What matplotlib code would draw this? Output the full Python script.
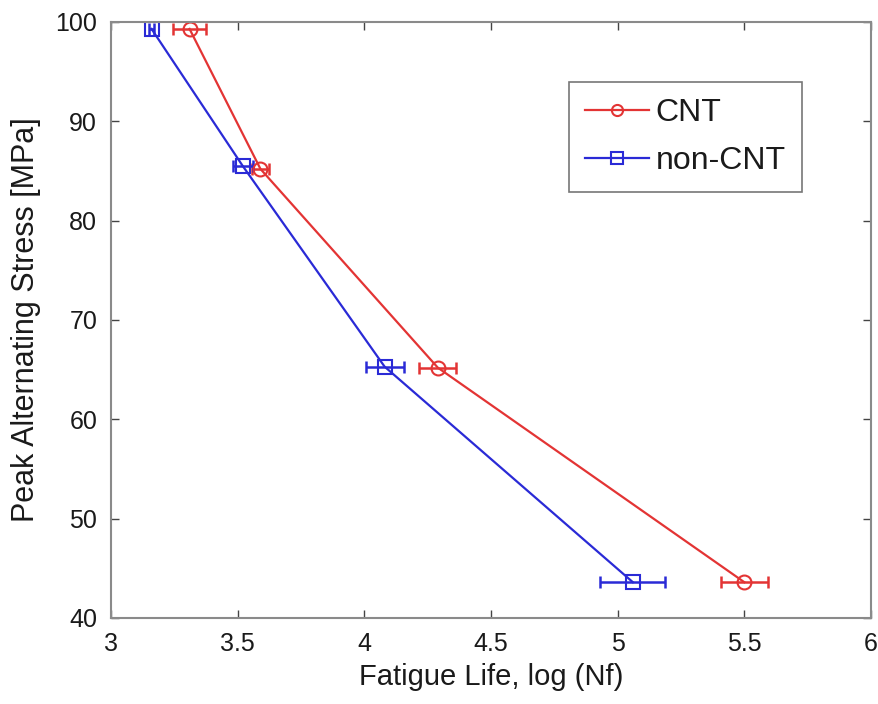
import matplotlib
matplotlib.use("Agg")
import matplotlib.pyplot as plt

plt.rcParams['font.family'] = ['Liberation Sans', 'DejaVu Sans']

stress = [99.3, 85.2, 65.2, 43.6]
cnt_life = [3.31, 3.59, 4.29, 5.50]
cnt_err = [0.065, 0.035, 0.073, 0.093]
stress_non = [99.3, 85.5, 65.3, 43.6]
non_life = [3.16, 3.52, 4.08, 5.06]
non_err = [0.01, 0.04, 0.075, 0.128]

xticks = [3, 3.5, 4, 4.5, 5, 5.5, 6]
xticklabels = ['3', '3.5', '4', '4.5', '5', '5.5', '6']
yticks = [40, 50, 60, 70, 80, 90, 100]

red = '#e33434'
blue = '#2a2ad6'

fig = plt.figure(figsize=(8.79, 7.04), dpi=100)
ax = fig.add_axes([0.1263, 0.1222, 0.8646, 0.8466])

ax.errorbar(cnt_life, stress, xerr=cnt_err, fmt='none', ecolor=red,
            elinewidth=1.8, capsize=4, capthick=1.8)
ax.errorbar(non_life, stress_non, xerr=non_err, fmt='none', ecolor=blue,
            elinewidth=1.8, capsize=4, capthick=1.8)
ax.plot(cnt_life, stress, color=red, marker='o', mfc='none', mec=red, mew=1.5,
        ms=10, lw=1.6, label='CNT')
ax.plot(non_life, stress_non, color=blue, marker='s', mfc='none', mec=blue, mew=1.5,
        ms=10, lw=1.6, label='non-CNT')

ax.set_xlim(3, 6)
ax.set_ylim(40, 100)
ax.set_xticks(xticks)
ax.set_xticklabels(xticklabels)
ax.set_yticks(yticks)
ax.tick_params(direction='in', top=True, right=True, labelsize=18, length=6, width=1,
               color='#444444', pad=10, labelcolor='#1a1a1a')
for s in ax.spines.values():
    s.set_color('#8a8a8a')
    s.set_linewidth(1.5)

ax.set_xlabel('Fatigue Life, log (Nf)', fontsize=21, color='#1a1a1a', labelpad=5)
ax.set_ylabel('Peak Alternating Stress [MPa]', fontsize=22, color='#1a1a1a', labelpad=10)

leg = ax.legend(loc='upper right', bbox_to_anchor=(0.909, 0.899), borderaxespad=0,
                fontsize=23, frameon=True, fancybox=False, edgecolor='#555555',
                handlelength=2.0, borderpad=0.5, labelspacing=0.55, handletextpad=0.2,
                markerscale=0.8)
leg.get_frame().set_linewidth(1.2)
for t in leg.get_texts():
    t.set_color('#1a1a1a')

fig.savefig('out.png', dpi=100)
